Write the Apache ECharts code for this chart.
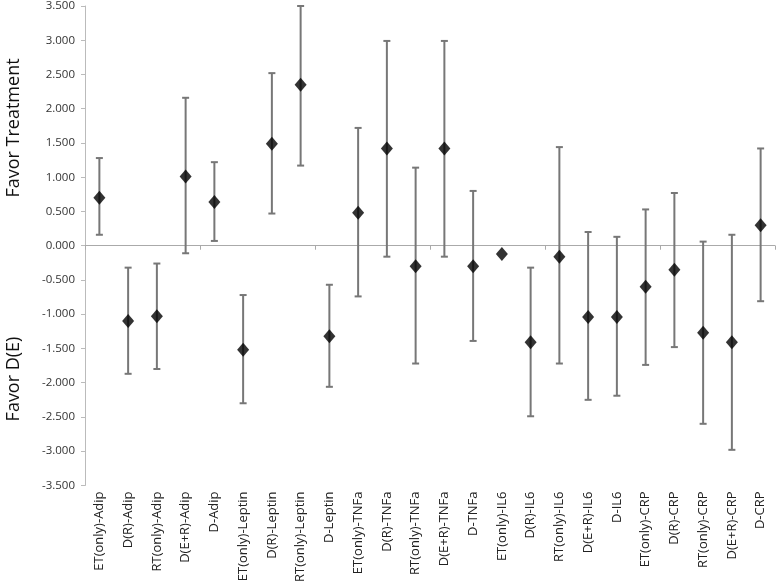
<!DOCTYPE html>
<html><head><meta charset="utf-8">
<script src="https://cdn.jsdelivr.net/npm/echarts@6/dist/echarts.min.js"></script>
<style>html,body{margin:0;padding:0;background:#fff}#c{width:778px;height:585px}</style>
</head><body><div id="c"></div>
<script>
const categories = ["ET(only)-Adip","D(R)-Adip","RT(only)-Adip","D(E+R)-Adip","D-Adip","ET(only)-Leptin","D(R)-Leptin","RT(only)-Leptin","D-Leptin","ET(only)-TNFa","D(R)-TNFa","RT(only)-TNFa","D(E+R)-TNFa","D-TNFa","ET(only)-IL6","D(R)-IL6","RT(only)-IL6","D(E+R)-IL6","D-IL6","ET(only)-CRP","D(R)-CRP","RT(only)-CRP","D(E+R)-CRP","D-CRP"];
const estimates = [0.70,-1.10,-1.03,1.01,0.64,-1.52,1.49,2.35,-1.32,0.48,1.42,-0.30,1.42,-0.30,-0.12,-1.41,-0.16,-1.04,-1.04,-0.60,-0.35,-1.27,-1.41,0.30];
const upper = [1.28,-0.32,-0.26,2.16,1.22,-0.72,2.52,3.50,-0.57,1.72,2.99,1.14,2.99,0.80,-0.12,-0.32,1.44,0.20,0.13,0.53,0.77,0.06,0.16,1.42];
const lower = [0.16,-1.87,-1.80,-0.11,0.07,-2.30,0.47,1.17,-2.06,-0.74,-0.16,-1.72,-0.16,-1.39,-0.12,-2.49,-1.72,-2.25,-2.19,-1.74,-1.48,-2.60,-2.98,-0.81];
const yTicks = {min:-3.5,max:3.5,interval:0.5};

const chart = echarts.init(document.getElementById('c'), null, {renderer:'canvas'});
const errData = categories.map((c,i)=>[i, lower[i], upper[i]]);
chart.setOption({
  animation:false,
  grid:{left:85,right:3,top:6,bottom:98},
  xAxis:[{
    type:'category', data:categories, position:'bottom',
    axisLine:{show:false,onZero:false}, axisTick:{show:false},
    axisLabel:{rotate:90,interval:0,fontSize:13,color:'#222',margin:6,fontFamily:'Open Sans'}
  },{
    type:'category', data:categories, position:'bottom',
    axisLine:{show:true,onZero:true,lineStyle:{color:'#aaa',width:1}},
    axisTick:{show:true,length:4,inside:false,lineStyle:{color:'#aaa'}},
    axisLabel:{show:false}
  }],
  yAxis:{
    type:'value', min:yTicks.min, max:yTicks.max, interval:yTicks.interval,
    splitLine:{show:false},
    axisLine:{show:true,lineStyle:{color:'#bbb'}},
    axisTick:{show:true,length:4,lineStyle:{color:'#bbb'}},
    axisLabel:{formatter:v=>v.toFixed(3),fontSize:11.5,color:'#333',margin:10,fontFamily:'Open Sans'}
  },
  graphic:[
    {type:'text',rotation:Math.PI/2,x:14,y:128,
     style:{text:'Favor Treatment',font:'18px "Open Sans"',fill:'#111',textAlign:'center',textVerticalAlign:'middle'}},
    {type:'text',rotation:Math.PI/2,x:14,y:379,
     style:{text:'Favor D(E)',font:'18px "Open Sans"',fill:'#111',textAlign:'center',textVerticalAlign:'middle'}}
  ],
  series:[{
    type:'custom', xAxisIndex:0, data:errData,
    encode:{x:0,y:[1,2]},
    renderItem:function(params,api){
      const x=api.value(0), lo=api.value(1), hi=api.value(2);
      if (lo===hi) return null;
      const p1=api.coord([x,hi]), p2=api.coord([x,lo]);
      const hw=3.5, st={stroke:'#777',lineWidth:2};
      return {type:'group',children:[
        {type:'line',shape:{x1:p1[0],y1:p1[1],x2:p2[0],y2:p2[1]},style:st},
        {type:'line',shape:{x1:p1[0]-hw,y1:p1[1],x2:p1[0]+hw,y2:p1[1]},style:st},
        {type:'line',shape:{x1:p2[0]-hw,y1:p2[1],x2:p2[0]+hw,y2:p2[1]},style:st}
      ]};
    },
    z:2
  },{
    type:'scatter', xAxisIndex:0, data:estimates, symbol:'diamond', symbolSize:[12,14],
    itemStyle:{color:'#000'}, z:3
  }]
});
</script></body></html>
